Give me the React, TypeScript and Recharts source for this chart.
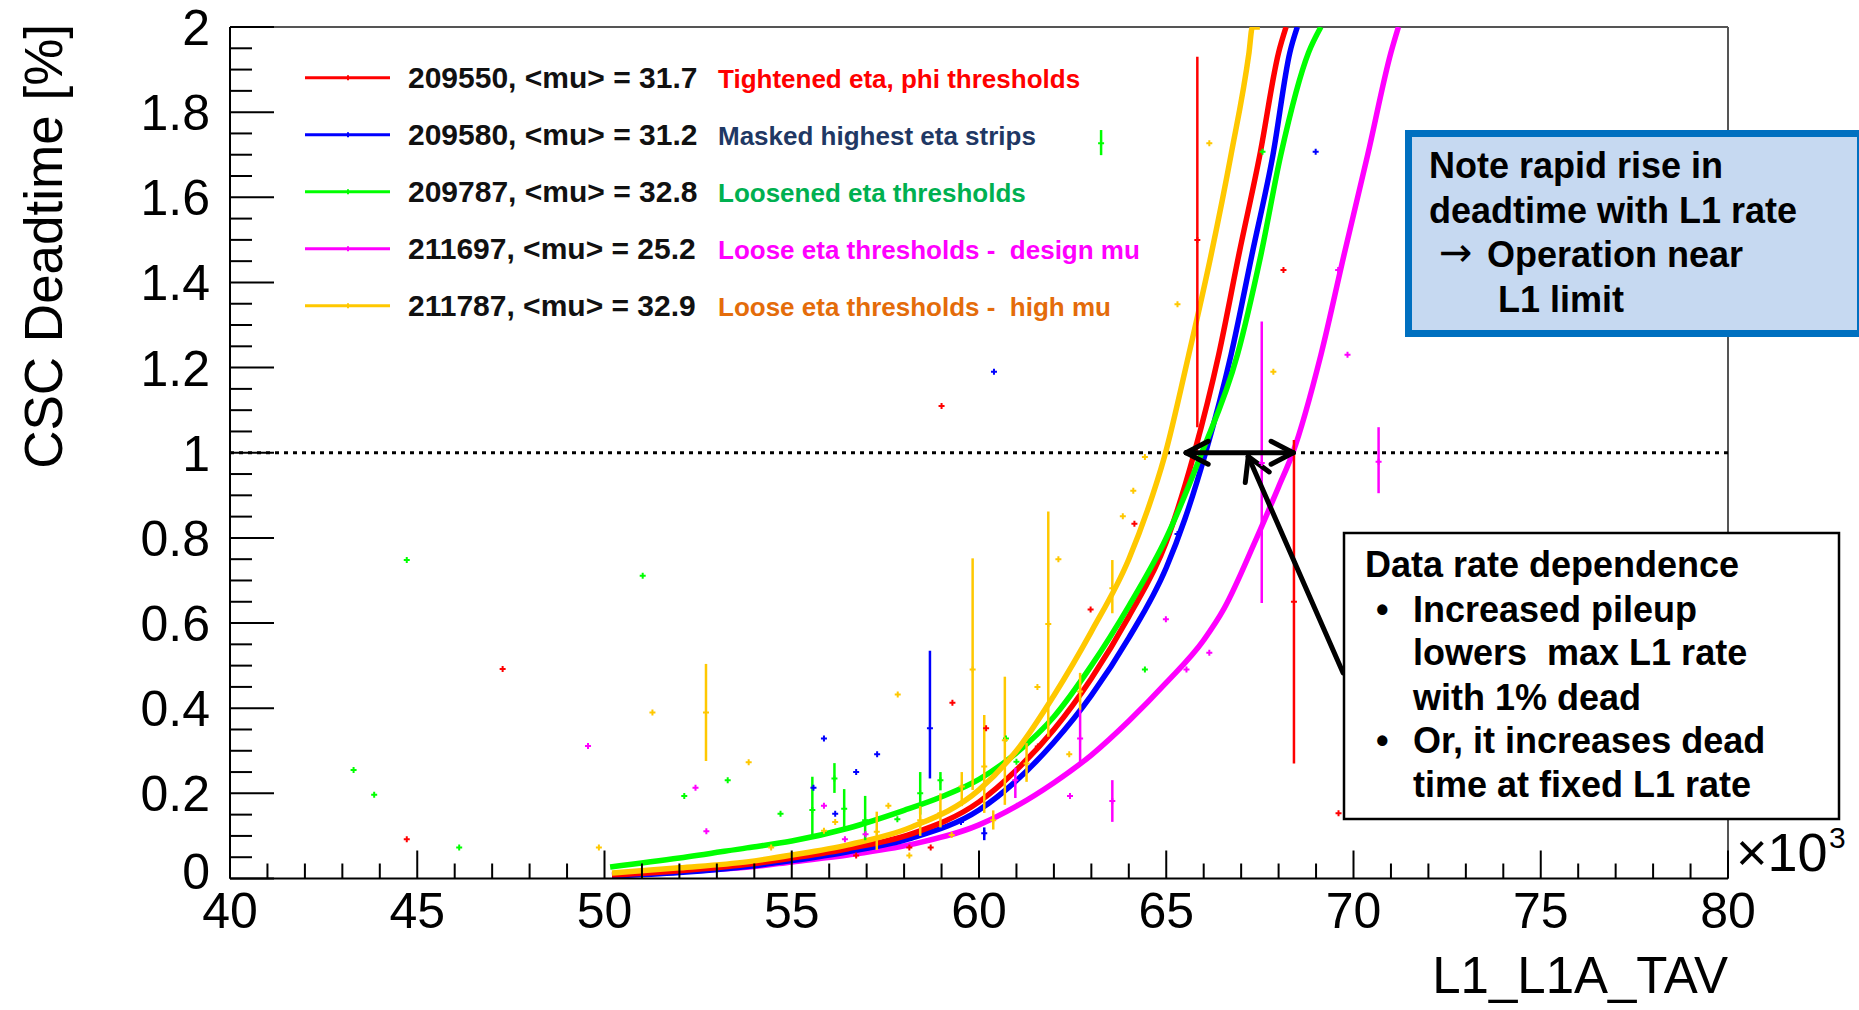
import React from "react";
import { ComposedChart, Line, Scatter, ErrorBar, XAxis, YAxis, ReferenceLine, Label } from "recharts";

const FONT = '"Liberation Sans", Arial, Helvetica, sans-serif';

// runs, in legend order
const runIds = ["209550", "209580", "209787", "211697", "211787"];
const runMu = ["31.7", "31.2", "32.8", "25.2", "32.9"];
const runNotes = [
  "Tightened eta, phi thresholds",
  "Masked highest eta strips",
  "Loosened eta thresholds",
  "Loose eta thresholds -  design mu",
  "Loose eta thresholds -  high mu",
];
const runColors = ["#ff0000", "#0000ff", "#00ff00", "#ff00ff", "#ffc800"];
const noteColors = ["#ff0000", "#1f3864", "#00b050", "#ff00ff", "#e46c0a"];

// fitted curves (x in units of 10^3, deadtime in %)
const fit209550X = [50.2, 52, 54, 55, 56.5, 58.2, 60, 61, 62, 63, 64, 65, 65.75, 66.4, 66.95, 67.5, 68.0, 68.2];
const fit209550Y = [0.008, 0.018, 0.035, 0.048, 0.07, 0.105, 0.18, 0.255, 0.35, 0.47, 0.615, 0.79, 1.0, 1.23, 1.47, 1.7, 1.94, 2.0];

const fit209580X = [50.2, 52, 54, 55, 56.5, 58.2, 60, 61, 62, 63, 64, 65, 65.5, 66.05, 66.73, 67.3, 67.85, 68.3, 68.5];
const fit209580Y = [0.006, 0.014, 0.03, 0.042, 0.063, 0.095, 0.161, 0.23, 0.32, 0.43, 0.565, 0.73, 0.845, 1.0, 1.23, 1.47, 1.7, 1.94, 2.0];

const fit209787X = [50.15, 52, 53.8, 55, 56.5, 58, 59, 60, 61, 62, 63, 64, 65, 65.95, 66.9, 67.53, 68.06, 68.8, 69.13];
const fit209787Y = [0.027, 0.048, 0.072, 0.088, 0.118, 0.16, 0.192, 0.233, 0.295, 0.38, 0.5, 0.64, 0.8, 1.0, 1.23, 1.466, 1.7, 1.94, 2.0];

const fit211697X = [50.2, 52, 54, 55, 56.5, 58.2, 60, 61, 62, 63, 64, 65, 66, 66.55, 67.35, 68.0, 68.38, 69.13, 69.75, 70.38, 71.0, 71.2];
const fit211697Y = [0.008, 0.016, 0.028, 0.039, 0.055, 0.08, 0.126, 0.17, 0.225, 0.29, 0.37, 0.46, 0.56, 0.635, 0.787, 0.92, 1.0, 1.23, 1.466, 1.7, 1.94, 2.0];

const fit211787X = [50.2, 52, 53.8, 55, 56.5, 58.2, 60, 61, 62, 63, 64, 64.5, 64.95, 65.6, 66.2, 66.73, 67.21, 67.3, 67.5];
const fit211787Y = [0.013, 0.025, 0.039, 0.055, 0.079, 0.121, 0.208, 0.3, 0.43, 0.58, 0.75, 0.865, 0.99, 1.23, 1.466, 1.7, 1.94, 2.0, 2.0];

// measured points: [x, y] or [x, y, low, high]
const pts209550 = [
  [44.72, 0.092], [47.28, 0.492], [56.72, 0.054], [58.14, 0.073], [58.71, 0.073], [59.0, 1.11],
  [59.29, 0.413], [60.19, 0.353], [61.57, 0.31], [62.98, 0.632], [64.15, 0.833],
  [65.83, 1.5, 1.06, 1.93], [68.13, 1.429], [68.41, 0.65, 0.27, 1.03], [69.6, 0.153],
];
const pts209580 = [
  [55.58, 0.213], [55.86, 0.329], [56.16, 0.152], [56.72, 0.25], [57.28, 0.292],
  [58.69, 0.353, 0.235, 0.535], [59.52, 0.133], [60.14, 0.106, 0.09, 0.12], [60.4, 1.19],
  [65.3, 0.809], [68.99, 1.707],
];
const pts209787 = [
  [43.3, 0.255], [43.85, 0.197], [44.72, 0.748], [46.12, 0.073], [51.02, 0.711], [52.13, 0.194],
  [53.29, 0.231], [54.7, 0.152], [55.55, 0.161, 0.098, 0.239], [56.14, 0.235, 0.201, 0.271],
  [56.4, 0.164, 0.121, 0.21], [56.96, 0.137, 0.09, 0.194], [57.82, 0.139], [58.43, 0.2, 0.15, 0.25],
  [58.97, 0.231, 0.207, 0.25], [60.72, 0.329], [61.0, 0.274], [63.26, 1.727, 1.699, 1.758],
  [64.43, 0.491], [67.57, 1.707],
];
const pts211697 = [
  [49.56, 0.311], [52.43, 0.213], [52.72, 0.111], [55.86, 0.171], [56.42, 0.092], [56.97, 0.104],
  [60.97, 0.231, 0.189, 0.26], [62.43, 0.194], [62.7, 0.329, 0.274, 0.396], [63.56, 0.182, 0.133, 0.231],
  [64.99, 0.609], [65.54, 0.491], [66.15, 0.53], [67.55, 0.976, 0.647, 1.308], [69.59, 1.429],
  [69.84, 1.23], [70.67, 0.979, 0.905, 1.06],
];
const pts211787 = [
  [49.85, 0.073], [51.28, 0.39], [52.71, 0.39, 0.276, 0.504], [53.85, 0.273], [54.45, 0.073],
  [55.86, 0.112], [56.16, 0.133], [57.27, 0.11, 0.067, 0.157], [57.58, 0.171], [57.83, 0.432],
  [58.14, 0.054], [58.43, 0.137, 0.1, 0.17], [58.97, 0.153, 0.12, 0.2], [59.27, 0.102],
  [59.54, 0.216, 0.17, 0.25], [59.83, 0.491, 0.208, 0.752], [60.14, 0.263, 0.154, 0.384],
  [60.38, 0.137, 0.115, 0.16], [60.69, 0.325, 0.173, 0.474], [61.27, 0.27, 0.227, 0.318],
  [61.56, 0.45], [61.85, 0.598, 0.333, 0.862], [62.12, 0.75], [62.41, 0.292], [62.7, 0.439, 0.396, 0.483],
  [63.56, 0.682, 0.623, 0.748], [63.84, 0.851], [64.12, 0.911], [64.43, 0.99], [65.3, 1.349],
  [66.15, 1.727], [67.86, 1.19],
];

const xMajor = [40, 45, 50, 55, 60, 65, 70, 75, 80];
const xTicks = Array.from({ length: 41 }, (_, i) => 40 + i);
const yTicks = Array.from({ length: 41 }, (_, i) => i * 0.05);

const fitX = [fit209550X, fit209580X, fit209787X, fit211697X, fit211787X];
const fitY = [fit209550Y, fit209580Y, fit209787Y, fit211697Y, fit211787Y];
const ptsAll = [pts209550, pts209580, pts209787, pts211697, pts211787];

const fits = fitX.map((xs, k) => xs.map((x, i) => ({ x, y: fitY[k][i] })));
const points = ptsAll.map((rows) =>
  rows.map(([x, y, lo, hi]) => ({ x, y, err: lo === undefined ? [0, 0] : [y - lo, hi - y] }))
);
const drawOrder = [3, 1, 0, 2, 4];

function XTick(props: any) {
  const { x, y, payload } = props;
  const v = payload.value;
  const major = xMajor.includes(v);
  return (
    <g>
      <line x1={x} x2={x} y1={y} y2={y - (major ? 28 : 15)} stroke="#000" strokeWidth={2} />
      {major && (
        <text x={x} y={y + 49} textAnchor="middle" fontSize={50} fontFamily={FONT} fill="#000">
          {v}
        </text>
      )}
    </g>
  );
}

function YTick(props: any) {
  const { x, y, payload } = props;
  const k = Math.round(payload.value * 20);
  const major = k % 4 === 0;
  // the lowest label is lifted a little so it clears the x labels
  const dy = k === 0 ? 10 : 18;
  return (
    <g>
      <line x1={x} x2={x + (major ? 44 : 22)} y1={y} y2={y} stroke="#000" strokeWidth={2} />
      {major && (
        <text x={x - 20} y={y + dy} textAnchor="end" fontSize={50} fontFamily={FONT} fill="#000">
          {String(Number((k * 0.05).toFixed(1)))}
        </text>
      )}
    </g>
  );
}

const plus = (color: string) => (p: any) => (
  <path d={`M${p.cx - 3},${p.cy}H${p.cx + 3}M${p.cx},${p.cy - 3}V${p.cy + 3}`} stroke={color} strokeWidth={2} fill="none" />
);

const arrowSegs = [
  [{ x: 65.53, y: 1 }, { x: 68.39, y: 1 }],
  [{ x: 65.53, y: 1 }, { x: 66.12, y: 1.027 }],
  [{ x: 65.53, y: 1 }, { x: 66.12, y: 0.973 }],
  [{ x: 68.39, y: 1 }, { x: 67.8, y: 1.027 }],
  [{ x: 68.39, y: 1 }, { x: 67.8, y: 0.973 }],
  [{ x: 69.72, y: 0.483 }, { x: 67.19, y: 0.991 }],
  [{ x: 67.19, y: 0.991 }, { x: 67.11, y: 0.93 }],
  [{ x: 67.19, y: 0.991 }, { x: 67.75, y: 0.955 }],
];

function Overlay() {
  const bold = { fontFamily: FONT, fontWeight: 700, whiteSpace: "pre" as const };
  return (
    <svg width={1859} height={1010} style={{ position: "absolute", left: 0, top: 0, pointerEvents: "none" }}>
      {runIds.map((id, i) => {
        const base = 88.3 + i * 57;
        return (
          <g key={id}>
            <line x1={305} x2={390} y1={base - 10.5} y2={base - 10.5} stroke={runColors[i]} strokeWidth={3} />
            <line x1={348} x2={348} y1={base - 13} y2={base - 8} stroke={runColors[i]} strokeWidth={2} />
            <text x={408} y={base} fontSize={30} fill="#111" style={bold}>{`${id}, <mu> = ${runMu[i]}`}</text>
            <text x={718} y={base} fontSize={26} fill={noteColors[i]} style={bold}>{runNotes[i]}</text>
          </g>
        );
      })}

      <rect x={1408.5} y={133.5} width={452} height={200} fill="#c6d9f1" stroke="#0070c0" strokeWidth={7} />
      <text x={1429} y={178} fontSize={36} style={bold}>Note rapid rise in</text>
      <text x={1429} y={223} fontSize={36} style={bold}>deadtime with L1 rate</text>
      <text x={1439} y={266} fontSize={40} fontFamily='"DejaVu Sans", sans-serif'>→</text>
      <text x={1487} y={267} fontSize={36} style={bold}>Operation near</text>
      <text x={1498} y={312} fontSize={36} style={bold}>L1 limit</text>

      <rect x={1344} y={533} width={495} height={286} fill="#fff" stroke="#000" strokeWidth={2.5} />
      <text x={1365} y={577} fontSize={36} style={bold}>Data rate dependence</text>
      <text x={1376} y={622} fontSize={36} style={bold}>•</text>
      <text x={1413} y={622} fontSize={36} style={bold}>Increased pileup</text>
      <text x={1413} y={665} fontSize={36} style={bold}>lowers  max L1 rate</text>
      <text x={1413} y={710} fontSize={36} style={bold}>with 1% dead</text>
      <text x={1376} y={753} fontSize={36} style={bold}>•</text>
      <text x={1413} y={753} fontSize={36} style={bold}>Or, it increases dead</text>
      <text x={1413} y={797} fontSize={36} style={bold}>time at fixed L1 rate</text>
    </svg>
  );
}

export default function App() {
  return (
    <div style={{ position: "absolute", left: 0, top: 0, width: 1859, height: 1010, background: "#fff" }}>
      <ComposedChart width={1859} height={1010} margin={{ top: 27, right: 131, bottom: 0, left: 0 }}>
        <XAxis
          type="number"
          dataKey="x"
          domain={[40, 80]}
          ticks={xTicks}
          interval={0}
          tickSize={0}
          tickMargin={0}
          tick={XTick}
          tickLine={false}
          height={131.5}
          axisLine={{ stroke: "#000", strokeWidth: 2 }}
          allowDataOverflow
        >
          <Label
            content={() => (
              <g fontFamily={FONT} fill="#000">
                <text x={1728} y={993} textAnchor="end" fontSize={51}>L1_L1A_TAV</text>
                <text x={1736} y={871} fontSize={54}>×10</text>
                <text x={1829} y={848} fontSize={30}>3</text>
              </g>
            )}
          />
        </XAxis>
        <YAxis
          type="number"
          dataKey="y"
          domain={[0, 2]}
          ticks={yTicks}
          interval={0}
          tickSize={0}
          tickMargin={0}
          tick={YTick}
          tickLine={false}
          width={230}
          axisLine={{ stroke: "#000", strokeWidth: 2 }}
          allowDataOverflow
        >
          <Label
            content={() => (
              <text transform="translate(62,24) rotate(-90)" textAnchor="end" fontSize={53} fontFamily={FONT} fill="#000">
                CSC Deadtime [%]
              </text>
            )}
          />
        </YAxis>

        <ReferenceLine y={2} stroke="#555" strokeWidth={2} />
        <ReferenceLine x={80} stroke="#555" strokeWidth={2} />
        <ReferenceLine y={1} stroke="#000" strokeWidth={3} strokeDasharray="4 5" />

        {drawOrder.map((k) => (
          <Line
            key={"fit" + k}
            data={fits[k]}
            dataKey="y"
            type="monotone"
            stroke={runColors[k]}
            strokeWidth={5.5}
            dot={false}
            activeDot={false}
            isAnimationActive={false}
          />
        ))}
        {drawOrder.map((k) => (
          <Scatter key={"pts" + k} data={points[k]} dataKey="y" fill={runColors[k]} shape={plus(runColors[k])} isAnimationActive={false}>
            <ErrorBar dataKey="err" direction="y" width={0} stroke={runColors[k]} strokeWidth={2.5} isAnimationActive={false} />
          </Scatter>
        ))}

        {arrowSegs.map((s, i) => (
          <ReferenceLine key={"arr" + i} segment={s} stroke="#000" strokeWidth={5} strokeLinecap="round" ifOverflow="visible" />
        ))}
      </ComposedChart>
      <Overlay />
    </div>
  );
}
